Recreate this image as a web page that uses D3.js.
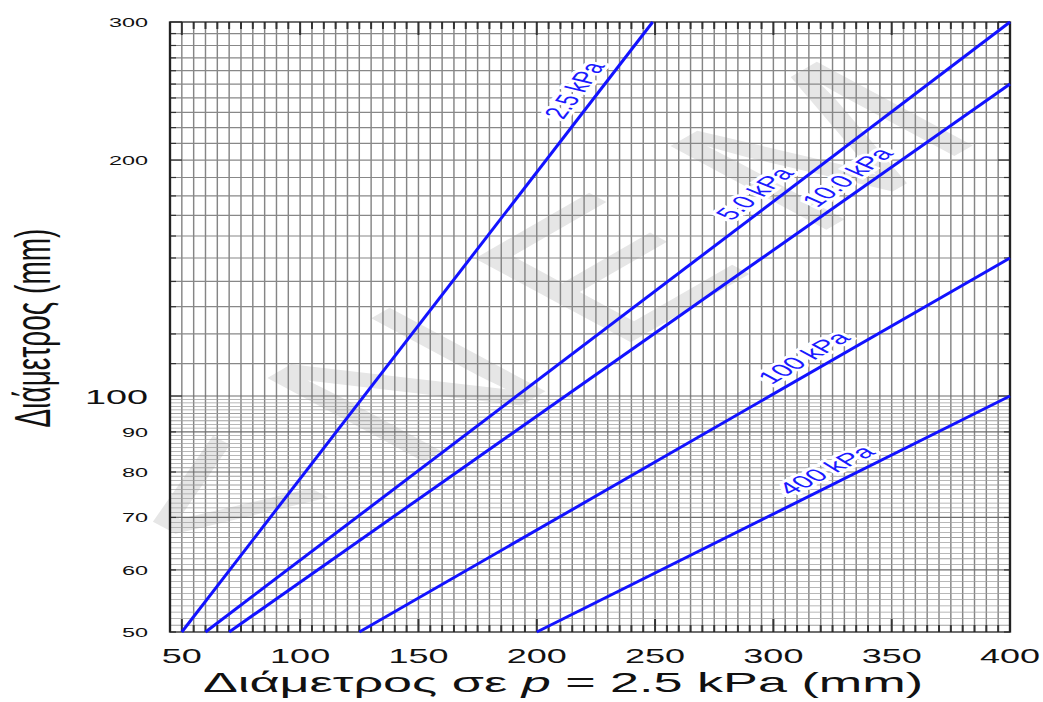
<!DOCTYPE html>
<html>
<head>
<meta charset="utf-8">
<script src="https://cdn.jsdelivr.net/npm/d3@7"></script>
<style>
body { margin: 0; background: #fff; }
text { font-family: "Liberation Sans", Arial, sans-serif; }
</style>
</head>
<body>
<div id="chart"></div>
<script>
// curves: diameter at p = 2.5 kPa (x) vs diameter at given pressure (y)
var pressures = ["2.5 kPa", "5.0 kPa", "10.0 kPa", "100 kPa", "400 kPa"];
var startX = [50, 60, 70, 125, 200];
var startY = [50, 50, 50, 50, 50];
var endX = [249, 400, 400, 400, 400];
var endY = [300, 300, 250, 150, 100];
var labelX = [225, 300, 339, 320, 329];

var xTicks = [50, 100, 150, 200, 250, 300, 350, 400];
var yTicks = [50, 60, 70, 80, 90, 100, 200, 300];

var width = 1043,
    height = 702,
    sx = 1.8,            // the picture is stretched sideways
    plotL = 170, plotR = 1010, plotT = 22, plotB = 632;

var svg = d3.select("#chart")
    .append("svg")
    .attr("width", width)
    .attr("height", height);

var g = svg.append("g").attr("transform", "scale(" + sx + ",1)");

var x = d3.scaleLinear().domain([45, 400]).range([plotL / sx, plotR / sx]);
var y = d3.scaleLog().domain([50, 300]).range([plotB, plotT]);

// watermark
g.append("text")
    .attr("transform", "translate(" + (530 / sx) + ",312) rotate(-46)")
    .attr("text-anchor", "middle")
    .attr("dy", "0.35em")
    .attr("font-size", 175)
    .attr("textLength", 610)
    .attr("lengthAdjust", "spacing")
    .attr("fill", "#e6e6e6")
    .text("<ΝΕΜ");

// vertical grid, every 5 mm
g.selectAll(".vgrid").data(d3.range(45, 401, 5)).enter()
    .append("line")
    .attr("x1", function(d) { return x(d); })
    .attr("x2", function(d) { return x(d); })
    .attr("y1", plotT)
    .attr("y2", plotB)
    .attr("stroke", "#858585")
    .attr("stroke-width", 0.8);

// horizontal grid: every 10 above 100, every 1 below
var hUpper = d3.range(110, 300, 10);
var hLower = d3.range(51, 100, 1).filter(function(d) { return d % 10 != 0; });
var hMajor = [60, 70, 80, 90, 100];

g.selectAll(".hlow").data(hLower).enter()
    .append("line")
    .attr("x1", x(45)).attr("x2", x(400))
    .attr("y1", function(d) { return y(d); })
    .attr("y2", function(d) { return y(d); })
    .attr("stroke", "#a0a0a0")
    .attr("stroke-width", 0.8);

g.selectAll(".hup").data(hUpper).enter()
    .append("line")
    .attr("x1", x(45)).attr("x2", x(400))
    .attr("y1", function(d) { return y(d); })
    .attr("y2", function(d) { return y(d); })
    .attr("stroke", "#888")
    .attr("stroke-width", 1.2);

g.selectAll(".hmaj").data(hMajor).enter()
    .append("line")
    .attr("x1", x(45)).attr("x2", x(400))
    .attr("y1", function(d) { return y(d); })
    .attr("y2", function(d) { return y(d); })
    .attr("stroke", "#6e6e6e")
    .attr("stroke-width", 1.2);

// tick marks on all four sides
var xMinor = d3.range(50, 401, 5);
[plotT, plotB].forEach(function(edge) {
    var dir = edge == plotT ? 1 : -1;
    g.selectAll(null).data(xMinor).enter()
        .append("line")
        .attr("x1", function(d) { return x(d); })
        .attr("x2", function(d) { return x(d); })
        .attr("y1", edge)
        .attr("y2", function(d) { return edge + dir * (d % 50 == 0 ? 13 : 7); })
        .attr("stroke", "#333")
        .attr("stroke-width", 1.1);
});
var yTickAll = d3.range(50, 100, 10).concat(d3.range(100, 301, 10));
[plotL, plotR].forEach(function(edge) {
    var dir = edge == plotL ? 1 : -1;
    g.selectAll(null).data(yTickAll).enter()
        .append("line")
        .attr("x1", edge / sx)
        .attr("x2", function(d) { return (edge + dir * (d % 100 == 0 ? 12 : 6)) / sx; })
        .attr("y1", function(d) { return y(d); })
        .attr("y2", function(d) { return y(d); })
        .attr("stroke", "#333")
        .attr("stroke-width", 1.2);
});

// frame
g.append("rect")
    .attr("x", x(45)).attr("y", plotT)
    .attr("width", x(400) - x(45))
    .attr("height", plotB - plotT)
    .attr("fill", "none")
    .attr("stroke", "#222")
    .attr("stroke-width", 1.3);

// curves
var curves = pressures.map(function(p, i) {
    return { name: p, x0: startX[i], y0: startY[i], x1: endX[i], y1: endY[i], lx: labelX[i] };
});

g.selectAll(".curve").data(curves).enter()
    .append("line")
    .attr("x1", function(d) { return x(d.x0); })
    .attr("y1", function(d) { return y(d.y0); })
    .attr("x2", function(d) { return x(d.x1); })
    .attr("y2", function(d) { return y(d.y1); })
    .attr("stroke", "#1212ff")
    .attr("stroke-width", 3)
    .attr("vector-effect", "non-scaling-stroke");

g.selectAll(".clabel").data(curves).enter()
    .append("text")
    .attr("transform", function(d) {
        var px0 = x(d.x0), py0 = y(d.y0), px1 = x(d.x1), py1 = y(d.y1);
        var t = (d.lx - d.x0) / (d.x1 - d.x0);
        var px = px0 + t * (px1 - px0), py = py0 + t * (py1 - py0);
        var ang = Math.atan2(py1 - py0, px1 - px0) * 180 / Math.PI;
        return "translate(" + px + "," + py + ") rotate(" + ang + ")";
    })
    .attr("text-anchor", "middle")
    .attr("dy", -7)
    .attr("font-size", 17.5)
    .attr("fill", "#1a1aff")
    .attr("stroke", "#fff")
    .attr("stroke-width", 5)
    .attr("paint-order", "stroke")
    .text(function(d) { return d.name; });

// axis labels
g.selectAll(".xlab").data(xTicks).enter()
    .append("text")
    .attr("x", function(d) { return x(d); })
    .attr("y", 663)
    .attr("text-anchor", "middle")
    .attr("font-size", 20)
    .attr("fill", "#111")
    .text(function(d) { return d; });

g.selectAll(".ylab").data(yTicks).enter()
    .append("text")
    .attr("x", 148 / sx)
    .attr("y", function(d) { return y(d); })
    .attr("dy", "0.36em")
    .attr("text-anchor", "end")
    .attr("font-size", function(d) { return d == 100 ? 21 : 13; })
    .attr("fill", "#111")
    .text(function(d) { return d; });

var xt = g.append("text")
    .attr("x", 563 / sx)
    .attr("y", 692)
    .attr("text-anchor", "middle")
    .attr("font-size", 27)
    .attr("textLength", 720 / sx)
    .attr("lengthAdjust", "spacingAndGlyphs")
    .attr("fill", "#111");
xt.append("tspan").text("Διάμετρος σε ");
xt.append("tspan").attr("font-style", "italic").text("p");
xt.append("tspan").text(" = 2.5 kPa (mm)");

g.append("text")
    .attr("transform", "translate(" + (50 / sx) + ",328) rotate(-90)")
    .attr("text-anchor", "middle")
    .attr("font-size", 28)
    .attr("fill", "#111")
    .text("Διάμετρος (mm)");
</script>
</body>
</html>
